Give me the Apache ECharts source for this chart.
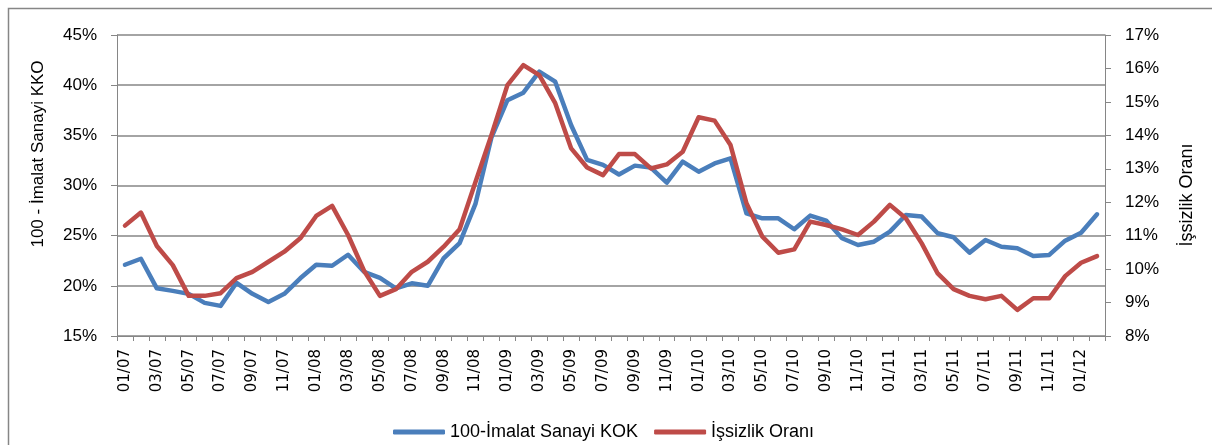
<!DOCTYPE html>
<html>
<head>
<meta charset="utf-8">
<script src="https://cdn.jsdelivr.net/npm/echarts@6/dist/echarts.min.js"></script>
<style>
html,body{margin:0;padding:0;background:#fff;}
#chart{width:1212px;height:445px;}
</style>
</head>
<body>
<div id="chart"></div>
<script>
// Months 01/07 .. 02/12
const categories = [];
for (let y = 7; y <= 12; y++) {
  for (let m = 1; m <= 12; m++) {
    if (y === 12 && m > 2) break;
    categories.push(String(m).padStart(2, '0') + '/' + String(y).padStart(2, '0'));
  }
}

const kokValues = [
  22.1, 22.7, 19.75, 19.5, 19.2, 18.3, 18.0, 20.3, 19.2, 18.4, 19.2, 20.75,
  22.1, 22.0, 23.1, 21.4, 20.8, 19.75, 20.25, 20.0, 22.75, 24.25, 28.2, 34.8,
  38.5, 39.25, 41.35, 40.35, 36.0, 32.55, 32.05, 31.1, 31.98, 31.78, 30.28, 32.38,
  31.38, 32.2, 32.7, 27.23, 26.73, 26.73, 25.64, 27.0, 26.5, 24.74, 24.07, 24.4,
  25.4, 27.06, 26.9, 25.24, 24.84, 23.31, 24.57, 23.9, 23.74, 22.98, 23.08, 24.5,
  25.3, 27.13
];

const unemploymentValues = [
  11.3, 11.69, 10.69, 10.12, 9.2, 9.2, 9.28, 9.73, 9.92, 10.22, 10.52, 10.92,
  11.59, 11.89, 11.02, 9.95, 9.2, 9.4, 9.92, 10.22, 10.67, 11.19, 12.61, 14.01,
  15.5, 16.1, 15.8, 14.96, 13.61, 13.04, 12.81, 13.44, 13.44, 13.01, 13.13, 13.51,
  14.54, 14.44, 13.71, 11.97, 10.97, 10.49, 10.59, 11.42, 11.32, 11.19, 11.02, 11.42,
  11.92, 11.52, 10.77, 9.87, 9.4, 9.2, 9.1, 9.2, 8.78, 9.13, 9.13, 9.79,
  10.19, 10.39
];

const seriesNames = ['100-İmalat Sanayi KOK', 'İşsizlik Oranı'];
const leftAxisTitle = '100 - İmalat Sanayi KKO';
const rightAxisTitle = 'İşsizlik Oranı';

const gray = '#868686';
const chart = echarts.init(document.getElementById('chart'), null, {renderer: 'canvas'});
chart.setOption({
  animation: false,
  backgroundColor: '#fff',
  textStyle: {fontFamily: 'Liberation Sans'},
  grid: {left: 117, right: 107, top: 35, bottom: 109, containLabel: false},
  legend: {
    left: 388, top: 418,
    icon: 'roundRect', itemWidth: 52, itemHeight: 5, itemGap: 16,
    textStyle: {fontSize: 18, color: '#000', fontFamily: 'Liberation Sans'},
    data: seriesNames
  },
  xAxis: {
    type: 'category',
    data: categories,
    boundaryGap: true,
    axisLine: {lineStyle: {color: gray, width: 1}},
    axisTick: {show: true, interval: 0, length: 5, lineStyle: {color: gray}},
    axisLabel: {interval: 1, rotate: 90, margin: 13, fontSize: 15, color: '#000', fontFamily: 'DejaVu Sans'},
    splitLine: {show: false}
  },
  yAxis: [
    {
      type: 'value', min: 15, max: 45, interval: 5, position: 'left',
      axisLine: {show: true, lineStyle: {color: gray}},
      axisTick: {show: true, length: 6, lineStyle: {color: gray}},
      axisLabel: {formatter: '{value}%', fontSize: 17, color: '#000', margin: 20},
      splitLine: {show: true, lineStyle: {color: gray, width: 1.5}}
    },
    {
      type: 'value', min: 8, max: 17, interval: 1, position: 'right',
      axisLine: {show: true, lineStyle: {color: gray}},
      axisTick: {show: true, length: 6, lineStyle: {color: gray}},
      axisLabel: {formatter: '{value}%', fontSize: 17, color: '#000', margin: 20},
      splitLine: {show: false}
    }
  ],
  graphic: [
    {type: 'rect', left: 6, top: 6, z: -1, silent: true,
     shape: {width: 1230, height: 460}, style: {fill: 'none', stroke: gray, lineWidth: 1.5}},
    {type: 'text', x: 38, y: 154, rotation: Math.PI / 2,
     style: {text: leftAxisTitle, fontSize: 17, fill: '#000', fontFamily: 'Liberation Sans', align: 'center', verticalAlign: 'middle'}},
    {type: 'text', x: 1187, y: 195, rotation: Math.PI / 2,
     style: {text: rightAxisTitle, fontSize: 18, fill: '#000', fontFamily: 'Liberation Sans', align: 'center', verticalAlign: 'middle'}}
  ],
  series: [
    {
      name: seriesNames[0], type: 'line', yAxisIndex: 0, data: kokValues,
      showSymbol: false, symbol: 'none',
      lineStyle: {color: '#4A7EBB', width: 4.5, cap: 'round', join: 'round'},
      itemStyle: {color: '#4A7EBB'}
    },
    {
      name: seriesNames[1], type: 'line', yAxisIndex: 1, data: unemploymentValues,
      showSymbol: false, symbol: 'none',
      lineStyle: {color: '#BE4B48', width: 4.5, cap: 'round', join: 'round'},
      itemStyle: {color: '#BE4B48'}
    }
  ]
});
</script>
</body>
</html>
